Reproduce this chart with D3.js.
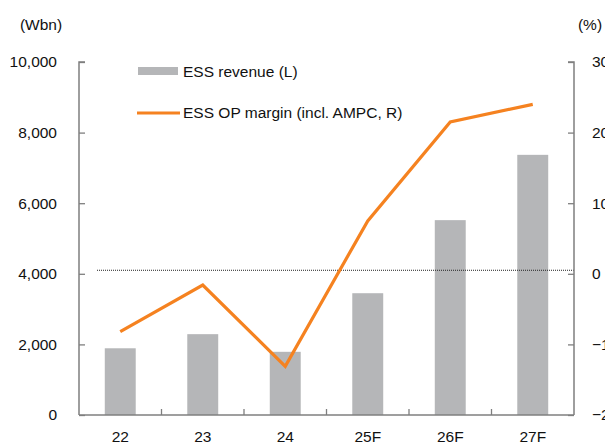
<!DOCTYPE html>
<html>
<head>
<meta charset="utf-8">
<script src="https://cdn.jsdelivr.net/npm/d3@7"></script>
<style>
  body { margin: 0; background: #fff; }
  svg { display: block; font-family: "Liberation Sans", Arial, sans-serif; }
</style>
</head>
<body>
<div id="chart"></div>
<script>
const categories = ["22", "23", "24", "25F", "26F", "27F"];
const revenue = [1890, 2290, 1790, 3450, 5520, 7370];     // Wbn, left axis
const opMargin = [-8.2, -1.6, -13.1, 7.5, 21.5, 24.0];    // %, right axis
const leftTicks = [0, 2000, 4000, 6000, 8000, 10000];
const rightTicks = [-20, -10, 0, 10, 20, 30];
const refLine = 0.5;  // dotted line near the right-axis zero

const W = 605, H = 446;
const margin = {left: 79, right: 31, top: 62, bottom: 31};
const GRAY_AXIS = "#7f7f7f";
const BAR = "#b5b6b8";
const ORANGE = "#f58220";

const svg = d3.select("#chart").append("svg")
    .attr("width", W).attr("height", H);

const x = d3.scaleBand()
    .domain(categories)
    .range([margin.left, W - margin.right])
    .paddingInner(0.625).paddingOuter(0.3125);

const band = d3.scaleBand().domain(categories)
    .range([margin.left, W - margin.right]);

const yL = d3.scaleLinear().domain([0, 10000])
    .range([H - margin.bottom, margin.top]);
const yR = d3.scaleLinear().domain([-20, 30])
    .range([H - margin.bottom, margin.top]);

// bars
svg.append("g").selectAll("rect")
    .data(revenue)
    .enter().append("rect")
    .attr("x", (d, i) => x(categories[i]))
    .attr("width", x.bandwidth())
    .attr("y", d => yL(d))
    .attr("height", d => yL(0) - yL(d))
    .attr("fill", BAR);

// dotted reference line
svg.append("line")
    .attr("x1", 97).attr("x2", W - margin.right)
    .attr("y1", yR(refLine)).attr("y2", yR(refLine))
    .attr("stroke", "#222").attr("stroke-width", 1)
    .attr("stroke-dasharray", "1,1");

// line
const line = d3.line()
    .x((d, i) => band(categories[i]) + band.bandwidth() / 2)
    .y(d => yR(d));
svg.append("path")
    .datum(opMargin)
    .attr("d", line)
    .attr("fill", "none")
    .attr("stroke", ORANGE)
    .attr("stroke-width", 3.2)
    .attr("stroke-linejoin", "miter");

// axes
const leftAxis = d3.axisLeft(yL).tickValues(leftTicks)
    .tickFormat(d3.format(",")).tickSize(-6).tickPadding(22);
const gl = svg.append("g")
    .attr("transform", "translate(" + margin.left + ",0)")
    .call(leftAxis);

const rightAxis = d3.axisRight(yR).tickValues(rightTicks)
    .tickSize(-6).tickPadding(18);
const gr = svg.append("g")
    .attr("transform", "translate(" + (W - margin.right) + ",0)")
    .call(rightAxis);

const bottomAxis = d3.axisBottom(band).tickSize(0).tickPadding(16);
const gb = svg.append("g")
    .attr("transform", "translate(0," + (H - margin.bottom) + ")")
    .call(bottomAxis);

// category boundary ticks on the bottom axis
svg.append("g").selectAll("line")
    .data(categories.slice(1))
    .enter().append("line")
    .attr("x1", d => band(d)).attr("x2", d => band(d))
    .attr("y1", H - margin.bottom).attr("y2", H - margin.bottom - 6)
    .attr("stroke", GRAY_AXIS).attr("stroke-width", 1.3);

[gl, gr, gb].forEach(g => {
    g.select(".domain").attr("stroke", GRAY_AXIS).attr("stroke-width", 1.5);
    g.selectAll(".tick line").attr("stroke", GRAY_AXIS).attr("stroke-width", 1.3);
    g.selectAll("text").attr("fill", "#111")
        .style("font-size", "15.5px")
        .style("font-family", "'Liberation Sans', Arial, sans-serif");
});
gl.select(".domain").attr("d", "M6," + yL(10000) + "H0V" + yL(0));
gr.select(".domain").attr("d", "M-6," + yR(30) + "H0V" + yR(-20));
gr.selectAll("text").attr("text-anchor", "start");
gb.select(".domain").attr("d", "M" + margin.left + ",0H" + (W - margin.right));

// axis unit labels
svg.append("text").attr("x", 41).attr("y", 30)
    .attr("text-anchor", "middle").style("font-size", "15.5px").attr("fill", "#111")
    .text("(Wbn)");
svg.append("text").attr("x", 590).attr("y", 30)
    .attr("text-anchor", "middle").style("font-size", "15.5px").attr("fill", "#111")
    .text("(%)");

// legend
const legend = svg.append("g");
legend.append("rect")
    .attr("x", 138).attr("y", 67).attr("width", 40).attr("height", 8)
    .attr("fill", BAR);
legend.append("text").attr("x", 183).attr("y", 77)
    .style("font-size", "15.5px").attr("fill", "#111")
    .text("ESS revenue (L)");
legend.append("line")
    .attr("x1", 137).attr("x2", 180).attr("y1", 113).attr("y2", 113)
    .attr("stroke", ORANGE).attr("stroke-width", 3);
legend.append("text").attr("x", 183).attr("y", 118)
    .style("font-size", "15.5px").attr("fill", "#111")
    .text("ESS OP margin (incl. AMPC, R)");
</script>
</body>
</html>
